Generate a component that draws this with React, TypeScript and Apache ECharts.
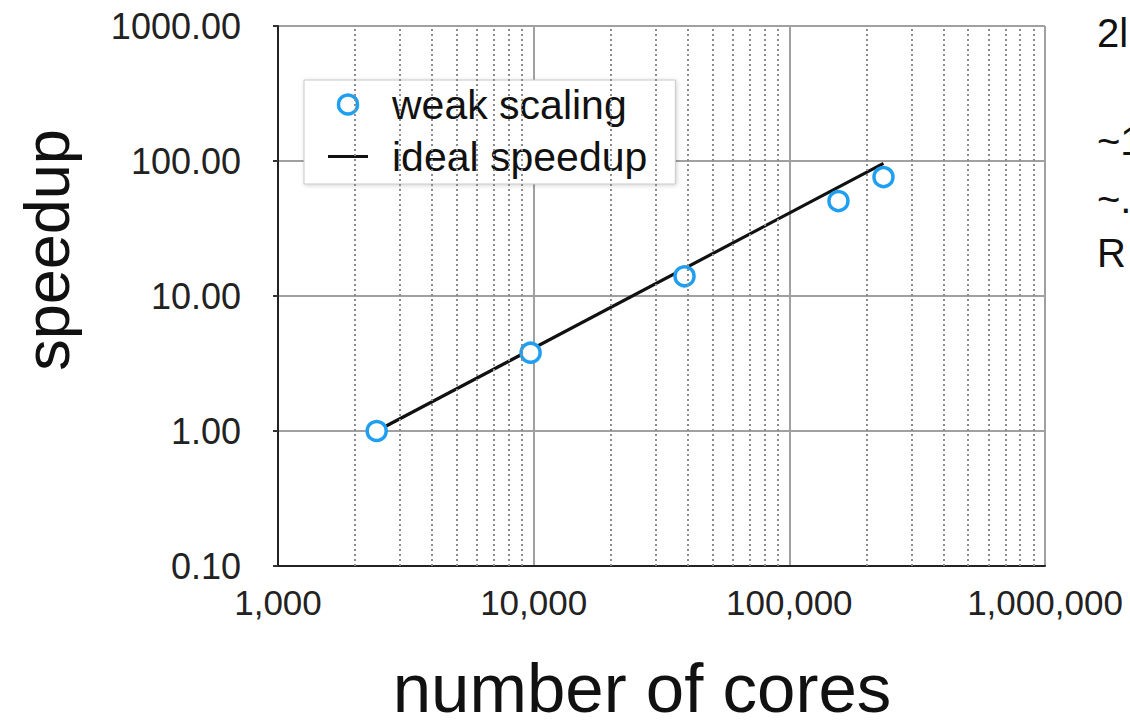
import React, { useEffect, useRef } from "react";
import * as echarts from "echarts";

// Weak-scaling measurements: core counts and measured speedup
const cores = [2432, 9728, 38912, 155648, 233472];
const speedup = [1.0, 3.8, 14.0, 50.5, 76.0];

// Ideal (linear) speedup reference line
const idealCores = [2432, 233472];
const idealSpeedup = [1.0, 96.0];

// Minor grid positions on the logarithmic core axis
const minorCoreTicks = [
  2000, 3000, 4000, 5000, 6000, 7000, 8000, 9000,
  20000, 30000, 40000, 50000, 60000, 70000, 80000, 90000,
  200000, 300000, 400000, 500000, 600000, 700000, 800000, 900000,
];

// Side notes next to the chart
const sideNotes = ["2l", "~1", "~.", "R"];

const FONT = "'Liberation Sans', Arial, Helvetica, sans-serif";
const BLUE = "#1e9ff2";

export default function App() {
  const ref = useRef<HTMLDivElement>(null);

  useEffect(() => {
    if (!ref.current) return;
    const chart = echarts.init(ref.current, undefined, { renderer: "svg" });

    const noteY = [33, 141, 199, 253];

    chart.setOption({
      animation: false,
      backgroundColor: "#ffffff",
      grid: { left: 278, right: 85, top: 26, bottom: 158, containLabel: false },
      legend: {
        orient: "vertical",
        left: 304,
        top: 80,
        data: [
          {
            name: "weak scaling",
            icon: "circle",
            itemStyle: { color: "#ffffff", borderColor: BLUE, borderWidth: 3.5 },
          },
          { name: "ideal speedup", icon: "path://M0,0 L40,0 L40,3 L0,3 Z" },
        ],
        itemWidth: 40,
        itemHeight: 19,
        itemGap: 11,
        padding: [4, 28, 7, 24],
        backgroundColor: "#ffffff",
        borderColor: "#c8c8c8",
        borderWidth: 1,
        shadowColor: "rgba(0,0,0,0.18)",
        shadowBlur: 4,
        shadowOffsetX: 1,
        shadowOffsetY: 1,
        textStyle: {
          fontFamily: FONT,
          fontSize: 41,
          lineHeight: 38,
          color: "#111",
          padding: [0, 0, 0, 19],
        },
      },
      xAxis: {
        type: "log",
        logBase: 10,
        min: 1000,
        max: 1000000,
        axisLine: { show: true, lineStyle: { color: "#222", width: 2 } },
        axisTick: { show: false },
        splitLine: { show: true, lineStyle: { color: "#a0a0a0", width: 2 } },
        axisLabel: {
          fontFamily: FONT,
          fontSize: 35,
          color: "#222",
          margin: 19,
          formatter: (v: number) => Math.round(v).toLocaleString("en-US"),
        },
      },
      yAxis: {
        type: "log",
        logBase: 10,
        min: 0.1,
        max: 1000,
        axisLine: { show: true, lineStyle: { color: "#222", width: 2 } },
        axisTick: { show: true, length: 5, lineStyle: { color: "#333", width: 2 } },
        splitLine: { show: true, lineStyle: { color: "#a0a0a0", width: 2 } },
        axisLabel: {
          fontFamily: FONT,
          fontSize: 36,
          color: "#222",
          margin: 37,
          formatter: (v: number) => v.toFixed(2),
        },
      },
      graphic: [
        {
          type: "text",
          x: 47,
          y: 250,
          rotation: Math.PI / 2,
          style: {
            text: "speedup",
            fontFamily: FONT,
            fontSize: 63,
            fill: "#111",
            align: "center",
            verticalAlign: "middle",
          },
        },
        {
          type: "text",
          x: 642,
          y: 688,
          style: {
            text: "number of cores",
            fontFamily: FONT,
            fontSize: 69,
            fill: "#111",
            align: "center",
            verticalAlign: "middle",
          },
        },
        ...sideNotes.map((t, i) => ({
          type: "text",
          x: 1097,
          y: noteY[i],
          style: {
            text: t,
            fontFamily: FONT,
            fontSize: 40,
            fill: "#111",
            align: "left",
            verticalAlign: "middle",
          },
        })),
      ],
      series: [
        {
          name: "minor grid",
          type: "line",
          data: [],
          z: 1,
          silent: true,
          markLine: {
            silent: true,
            symbol: ["none", "none"],
            label: { show: false },
            lineStyle: { color: "#8c8c8c", width: 2, type: [2, 3] },
            data: minorCoreTicks.map((v) => ({ xAxis: v })),
          },
        },
        {
          name: "ideal speedup",
          type: "line",
          z: 3,
          symbol: "none",
          symbolKeepAspect: true,
          lineStyle: { color: "#111", width: 3.2 },
          itemStyle: { color: "#111" },
          data: idealCores.map((c, i) => [c, idealSpeedup[i]]),
        },
        {
          name: "weak scaling",
          type: "scatter",
          z: 4,
          symbol: "circle",
          symbolSize: 19,
          symbolKeepAspect: true,
          itemStyle: { color: "#ffffff", borderColor: BLUE, borderWidth: 3.5, opacity: 1 },
          data: cores.map((c, i) => [c, speedup[i]]),
        },
      ],
    });

    return () => chart.dispose();
  }, []);

  return (
    <div
      ref={ref}
      style={{ position: "fixed", left: 0, top: 0, width: 1130, height: 724 }}
    />
  );
}
